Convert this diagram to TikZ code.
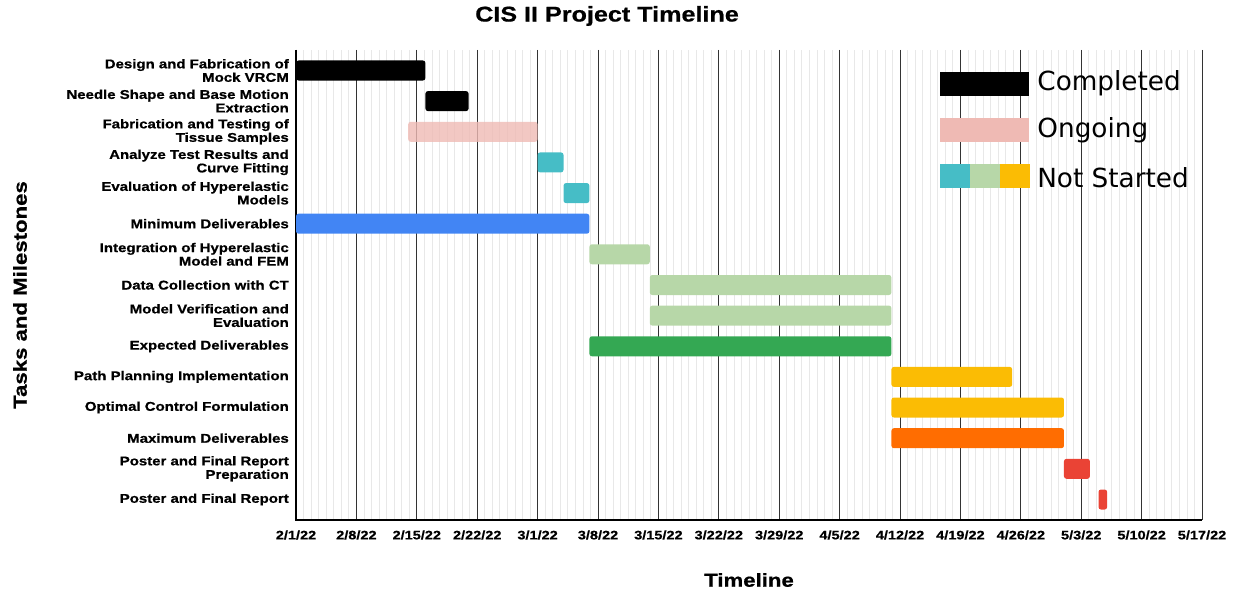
\documentclass[tikz,border=0pt]{standalone}
\usepackage{fontspec}
\setmainfont{Liberation Sans}[FakeStretch=1.18, FakeBold=0.7]
\newfontfamily\legendfont{DejaVu Sans}
\usetikzlibrary{positioning}

\definecolor{ongoing}{RGB}{239,186,180}
\definecolor{tealBar}{RGB}{70,189,198}
\definecolor{sageBar}{RGB}{183,215,168}
\definecolor{goldBar}{RGB}{251,188,4}
\definecolor{blueBar}{RGB}{66,133,244}
\definecolor{greenBar}{RGB}{52,168,83}
\definecolor{orangeBar}{RGB}{255,109,1}
\definecolor{redBar}{RGB}{234,67,53}

\begin{document}
\begin{tikzpicture}[%
    x=1pt,
    y=-1pt,
    task/.style={%
        anchor=east,
        align=right,
        inner sep=0pt,
        font=\fontsize{12.7}{13.5}\selectfont\bfseries
    },
    dateLabel/.style={%
        inner sep=0pt,
        font=\fontsize{12.3}{14}\selectfont\bfseries
    },
    axisTitle/.style={%
        inner sep=0pt,
        font=\fontsize{18.8}{20}\selectfont\bfseries
    },
    majorLine/.style={%
        draw=black!80,
        line width=1pt
    },
    minorLine/.style={%
        draw=black!9,
        line width=0.8pt
    },
    axisLine/.style={%
        draw=black,
        line width=1.5pt
    },
    bar/.style={%
        rounded corners=2.5pt
    },
    legendKey/.style={%
        minimum width=89pt,
        minimum height=24pt,
        inner sep=0pt
    },
    legendPart/.style={%
        minimum width=29.7pt,
        minimum height=24pt,
        inner sep=0pt
    },
    legendText/.style={%
        anchor=west,
        inner sep=0pt,
        font=\fontsize{26.3}{28}\selectfont\legendfont
    }
]
\useasboundingbox (0,0) rectangle (1233,594);

% Title
\node[inner sep=0pt, font=\fontsize{21.3}{22}\selectfont\bfseries] (title) at (607,16) {CIS II Project Timeline};

% Time axis, one unit = one day from 2/1/22
\begin{scope}[shift={(296,0)}, x=8.629pt]

% Grid
\foreach \m in {0,...,120}
    \draw[minorLine] (\m*0.875,50) -- (\m*0.875,520);
\foreach \w in {0,...,15}
    \draw[majorLine] (7*\w,50) -- (7*\w,520);
\draw[axisLine] (0,50) -- (0,520) -- (105,520);

% Dates
\foreach \t [count=\i from 0] in {2/1/22,2/8/22,2/15/22,2/22/22,3/1/22,3/8/22,3/15/22,3/22/22,3/29/22,4/5/22,4/12/22,4/19/22,4/26/22,5/3/22,5/10/22,5/17/22}
    \node[dateLabel] (date\i) at (7*\i,535) {\t};

% Bars
\fill[bar, black] (0,60.5) rectangle (15,80.5);
\fill[bar, black] (15,91.1) rectangle (20,111.1);
\fill[bar, ongoing, opacity=0.8] (13,121.8) rectangle (28,141.8);
\fill[bar, tealBar] (28,152.4) rectangle (31,172.4);
\fill[bar, tealBar] (31,183.1) rectangle (34,203.1);
\fill[bar, blueBar] (0,213.7) rectangle (34,233.7);
\fill[bar, sageBar] (34,244.3) rectangle (41,264.3);
\fill[bar, sageBar] (41,275) rectangle (69,295);
\fill[bar, sageBar] (41,305.6) rectangle (69,325.6);
\fill[bar, greenBar] (34,336.3) rectangle (69,356.3);
\fill[bar, goldBar] (69,366.9) rectangle (83,386.9);
\fill[bar, goldBar] (69,397.5) rectangle (89,417.5);
\fill[bar, orangeBar] (69,428.2) rectangle (89,448.2);
\fill[bar, redBar] (89,458.8) rectangle (92,478.8);
\fill[bar, redBar] (93,489.5) rectangle (94,509.5);
\end{scope}

% Tasks
\node[task] (task1) at (289,70.5) {Design and Fabrication of\\Mock VRCM};
\node[task] (task2) at (289,101.1) {Needle Shape and Base Motion\\Extraction};
\node[task] (task3) at (289,131.8) {Fabrication and Testing of\\Tissue Samples};
\node[task] (task4) at (289,162.4) {Analyze Test Results and\\Curve Fitting};
\node[task] (task5) at (289,193.1) {Evaluation of Hyperelastic\\Models};
\node[task] (task6) at (289,223.7) {Minimum Deliverables};
\node[task] (task7) at (289,254.3) {Integration of Hyperelastic\\Model and FEM};
\node[task] (task8) at (289,285) {Data Collection with CT};
\node[task] (task9) at (289,315.6) {Model Verification and\\Evaluation};
\node[task] (task10) at (289,346.3) {Expected Deliverables};
\node[task] (task11) at (289,376.9) {Path Planning Implementation};
\node[task] (task12) at (289,407.5) {Optimal Control Formulation};
\node[task] (task13) at (289,438.2) {Maximum Deliverables};
\node[task] (task14) at (289,468.8) {Poster and Final Report\\Preparation};
\node[task] (task15) at (289,499.5) {Poster and Final Report};

% Axis titles
\node[axisTitle] (xTitle) at (749,580) {Timeline};
\node[axisTitle, rotate=90] (yTitle) at (20,295) {Tasks and Milestones};

% Legend
\node[legendKey, fill=black] (keyDone) at (984.5,83.5) {};
\node[legendText, right=8pt of keyDone] (textDone) {Completed};
\node[legendKey, fill=ongoing] (keyOngoing) at (984.5,130) {};
\node[legendText, right=8pt of keyOngoing] (textOngoing) {Ongoing};
\node[legendPart, fill=tealBar] (keyTeal) at (954.85,176) {};
\node[legendPart, fill=sageBar, right=0pt of keyTeal] (keySage) {};
\node[legendPart, fill=goldBar, right=0pt of keySage] (keyGold) {};
\node[legendText, right=7pt of keyGold, yshift=-1.5pt] (textNew) {Not Started};

\end{tikzpicture}
\end{document}
